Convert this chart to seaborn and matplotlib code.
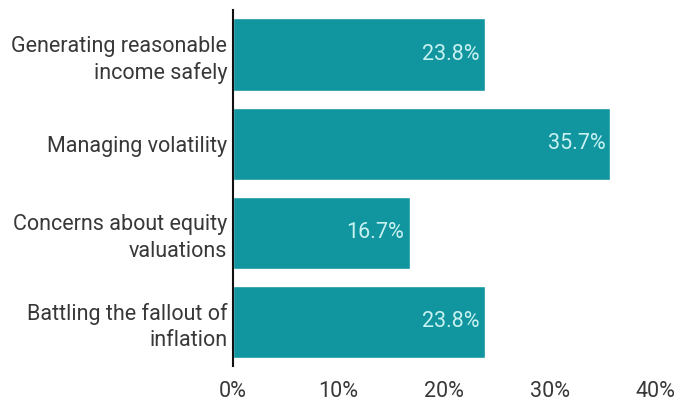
import matplotlib
matplotlib.use("Agg")
import matplotlib.pyplot as plt
import seaborn as sns
import pandas as pd

categories = [
    "Generating reasonable\nincome safely",
    "Managing volatility",
    "Concerns about equity\nvaluations",
    "Battling the fallout of\ninflation",
]
shares = [23.8, 35.7, 16.7, 23.8]
x_ticks = [0, 10, 20, 30, 40]
x_tick_labels = ["0%", "10%", "20%", "30%", "40%"]

df = pd.DataFrame({"category": categories, "share": shares})

sns.set_style("white")
plt.rcParams["font.family"] = ["Roboto", "DejaVu Sans"]

fig = plt.figure(figsize=(6.79, 4.01), dpi=100)
ax = fig.add_axes([0.343, 0.087, 0.623, 0.888])

sns.barplot(data=df, x="share", y="category", color="#11959e",
            saturation=1, width=0.81, ax=ax, orient="h")

for patch, val in zip(ax.patches, shares):
    ax.text(val - 0.5, patch.get_y() + patch.get_height() / 2, f"{val}%",
            ha="right", va="center", color="#c8f1f1", fontsize=15.5)

ax.set_xlim(0, 40)
ax.set_xticks(x_ticks)
ax.set_xticklabels(x_tick_labels)
ax.set_xlabel("")
ax.set_ylabel("")
ax.tick_params(axis="both", length=0, labelsize=15.5, colors="#383838")
ax.tick_params(axis="x", pad=11)
ax.tick_params(axis="y", pad=4)
for lbl in ax.get_yticklabels():
    lbl.set_horizontalalignment("right")
    lbl.set_multialignment("right")
    lbl.set_linespacing(1.35)

for side in ["top", "right", "bottom"]:
    ax.spines[side].set_visible(False)
ax.spines["left"].set_color("#111111")
ax.spines["left"].set_linewidth(1.5)

fig.savefig("out.png", dpi=100, facecolor="white")
